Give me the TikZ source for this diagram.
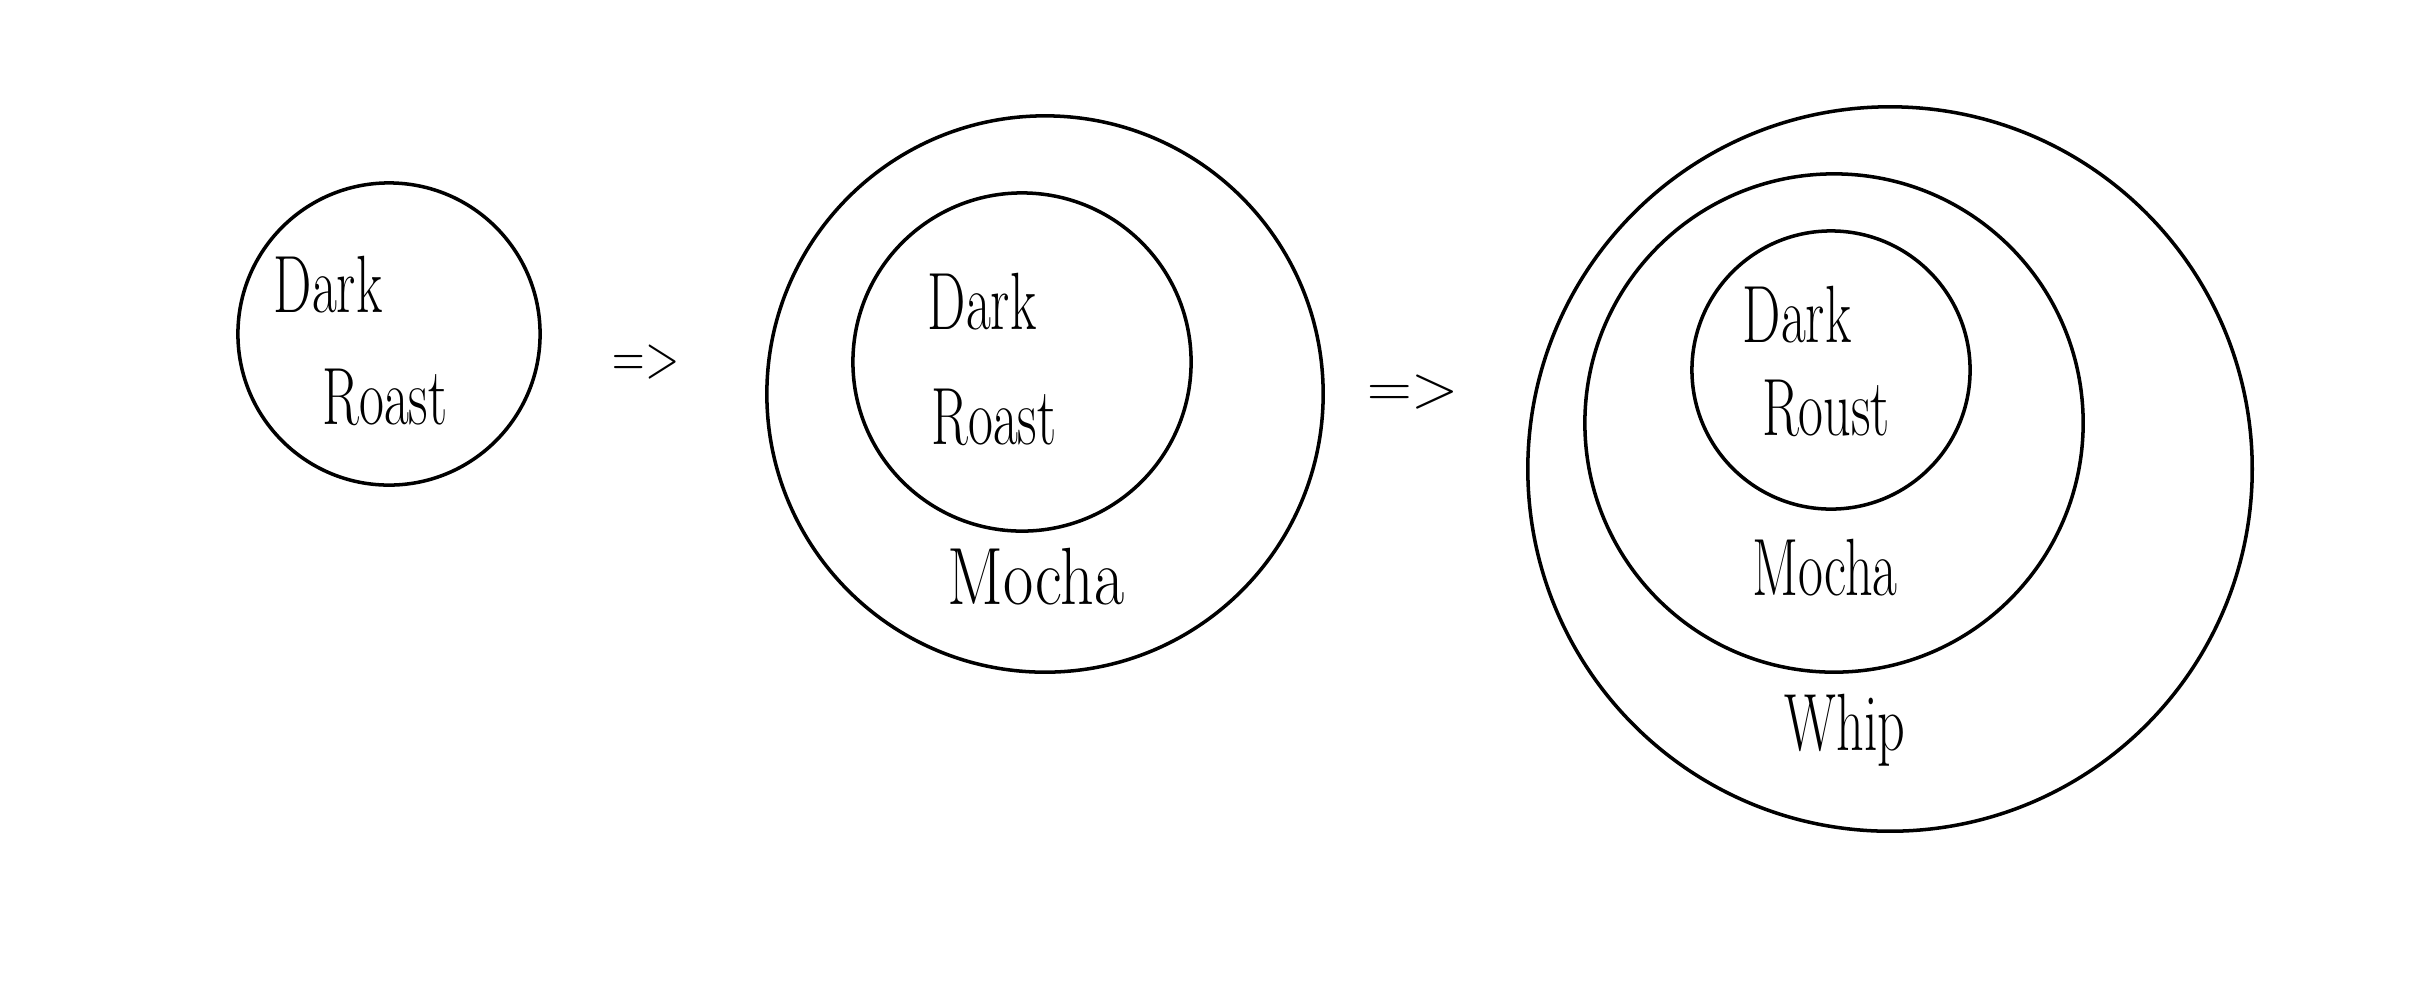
\documentclass[tikz,border=0pt]{standalone}
\usepackage{graphicx}
\newcommand{\narrowtext}[1]{\scalebox{0.7}[1.05]{#1}}
\tikzset{
  ring/.style={circle, draw=black, line width=1pt, inner sep=0pt},
  word/.style={font=\fontsize{22}{26}\selectfont, inner sep=0pt},
  arr/.style={font=\fontsize{16}{20}\selectfont, inner sep=0pt}
}
\begin{document}
\begin{tikzpicture}[x=0.01cm, y=-0.01cm]
\useasboundingbox (0,0) rectangle (2413,999);
% first
\node[ring, minimum size=3.02cm] (c1) at (389,334) {};
\node[word] (t1a) at (328,285) {\narrowtext{Dark}};
\node[word] (t1b) at (385,397) {\narrowtext{Roast}};
\node[arr] (a1) at (646,362) {\scalebox{0.8}[1.1]{=>}};
% second
\node[ring, minimum size=5.56cm] (c2o) at (1045,394) {};
\node[ring, minimum size=3.38cm] (c2i) at (1022,362) {};
\node[word] (t2a) at (982,302) {\narrowtext{Dark}};
\node[word] (t2b) at (994,417) {\narrowtext{Roast}};
\node[word] (t2c) at (1036,577) {\scalebox{0.85}[1.05]{Mocha}};
\node[arr] (a2) at (1413,392) {\scalebox{1.1}[1.1]{=>}};
% third
\node[ring, minimum size=7.24cm] (c3o) at (1890,469) {};
\node[ring, minimum size=4.98cm] (c3m) at (1834,423) {};
\node[ring, minimum size=2.78cm] (c3i) at (1831,370) {};
\node[word] (t3a) at (1797,315) {\narrowtext{Dark}};
\node[word] (t3b) at (1826,408) {\narrowtext{Roust}};
\node[word] (t3c) at (1825,568) {\narrowtext{Mocha}};
\node[word] (t3d) at (1845,730) {\narrowtext{Whip}};
\end{tikzpicture}
\end{document}
